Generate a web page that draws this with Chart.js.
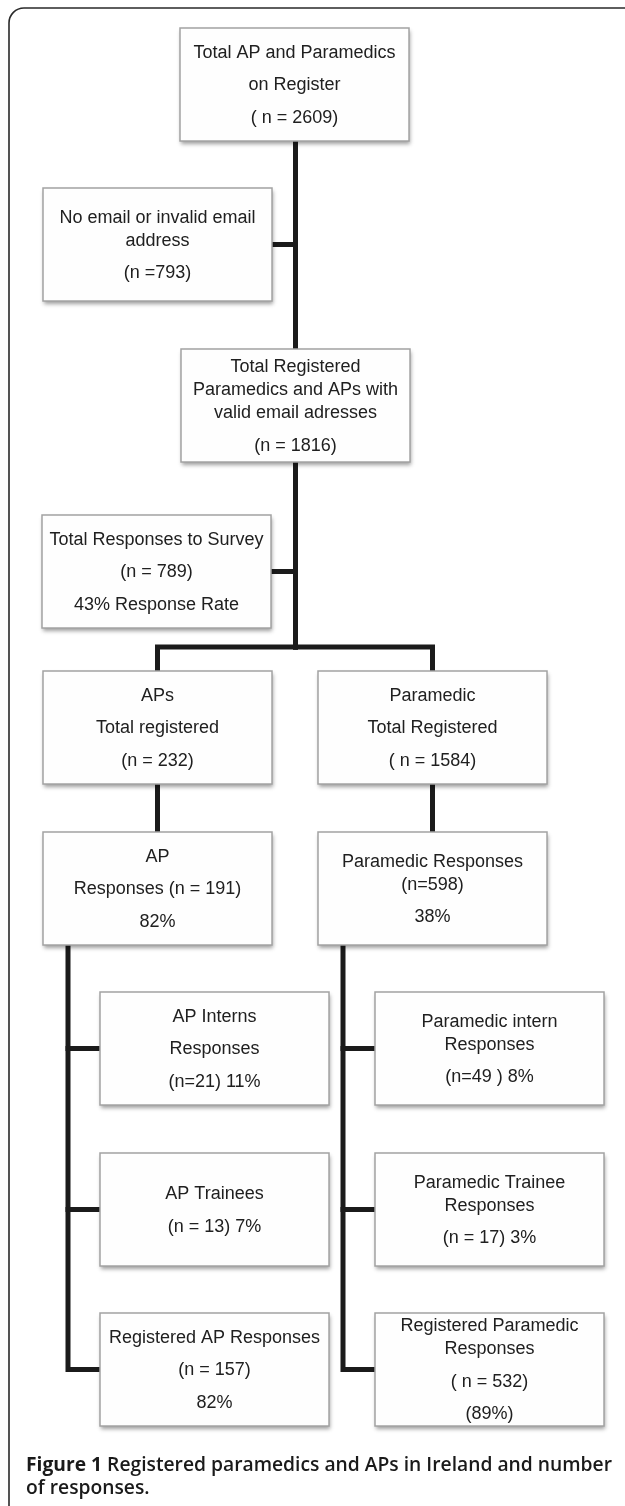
<!DOCTYPE html>
<html>
<head>
<meta charset="utf-8">
<script src="https://cdn.jsdelivr.net/npm/chart.js@4.4.1/dist/chart.umd.min.js"></script>
<style>
html, body { margin: 0; padding: 0; background: #fff; }
#wrap { width: 625px; height: 1506px; position: relative; }
</style>
</head>
<body>
<div id="wrap"><canvas id="chart"></canvas></div>
<script>
// text of each box: one entry per paragraph, "\n" = wrapped line in the same paragraph
var boxText = [
	['Total AP and Paramedics', 'on Register', '( n = 2609)'],
	['No email or invalid email\naddress', '(n =793)'],
	['Total Registered\nParamedics and APs with\nvalid email adresses', '(n = 1816)'],
	['Total Responses to Survey', '(n = 789)', '43% Response Rate'],
	['APs', 'Total registered', '(n = 232)'],
	['Paramedic', 'Total Registered', '( n = 1584)'],
	['AP', 'Responses (n = 191)', '82%'],
	['Paramedic Responses\n(n=598)', '38%'],
	['AP Interns', 'Responses', '(n=21) 11%'],
	['Paramedic intern\nResponses', '(n=49 ) 8%'],
	['AP Trainees', '(n = 13) 7%'],
	['Paramedic Trainee\nResponses', '(n = 17) 3%'],
	['Registered AP Responses', '(n = 157)', '82%'],
	['Registered Paramedic\nResponses', '( n = 532)', '(89%)']
];
// which box feeds which (parent index -> children)
var sideLinks = [[0, 1], [2, 3]];          // side boxes hanging off the main trunk
var trunkLinks = [[0, 2], [2, 4], [2, 5], [4, 6], [5, 7]];
var branchLinks = [[6, [8, 10, 12]], [7, [9, 11, 13]]];

var captionBold = 'Figure 1';
var captionRest = ' Registered paramedics and APs in Ireland and number';
var captionLine2 = 'of responses.';

// layout (page units, y goes down)
var boxLeft = [180, 43, 181, 42, 43, 318, 43, 318, 100, 375, 100, 375, 100, 375];
var boxTop = [28, 188, 349, 515, 671, 671, 832, 832, 992, 992, 1153, 1153, 1313, 1313];
var boxW = 229, boxH = 113;
var splitY = 647;      // horizontal bar under the survey box
var branchInset = 25;  // trunk x offset from the parent box's left edge

function box(i) {
	return { l: boxLeft[i], t: boxTop[i], r: boxLeft[i] + boxW, b: boxTop[i] + boxH,
		cx: boxLeft[i] + boxW / 2, cy: boxTop[i] + boxH / 2 };
}

// connector polylines, built from the boxes
var segs = [];
sideLinks.forEach(function (k) {
	var p = box(k[0]), c = box(k[1]);
	segs.push([{ x: c.r, y: c.cy }, { x: p.cx, y: c.cy }]);
});
trunkLinks.forEach(function (k) {
	var p = box(k[0]), c = box(k[1]);
	if (k[0] === 2) {
		segs.push([{ x: p.cx, y: p.b }, { x: p.cx, y: splitY }]);
		segs.push([{ x: p.cx, y: splitY }, { x: c.cx, y: splitY }, { x: c.cx, y: c.t }]);
	} else {
		segs.push([{ x: c.cx, y: p.b }, { x: c.cx, y: c.t }]);
	}
});
branchLinks.forEach(function (k) {
	var p = box(k[0]);
	var tx = p.l + branchInset;
	var kids = k[1];
	var last = box(kids[kids.length - 1]);
	segs.push([{ x: tx, y: p.b }, { x: tx, y: last.cy }, { x: last.l, y: last.cy }]);
	kids.slice(0, -1).forEach(function (ci) {
		var c = box(ci);
		segs.push([{ x: tx, y: c.cy }, { x: c.l, y: c.cy }]);
	});
});

var datasets = segs.map(function (s) {
	return {
		data: s,
		showLine: true,
		borderColor: '#1b1b1b',
		borderWidth: 5,
		pointRadius: 0,
		borderJoinStyle: 'miter',
		borderCapStyle: 'square'
	};
});

var flowPlugin = {
	id: 'flow',
	beforeDatasetsDraw: function (chart) {
		var ctx = chart.ctx, xs = chart.scales.x, ys = chart.scales.y;
		// outer frame with rounded top-left corner
		var x0 = xs.getPixelForValue(9), y0 = ys.getPixelForValue(8), r = 15;
		ctx.save();
		ctx.strokeStyle = '#2a2a2a';
		ctx.lineWidth = 1.6;
		ctx.beginPath();
		ctx.moveTo(x0, ys.getPixelForValue(1530));
		ctx.lineTo(x0, y0 + r);
		ctx.arcTo(x0, y0, x0 + r, y0, r);
		ctx.lineTo(xs.getPixelForValue(650), y0);
		ctx.stroke();
		ctx.restore();
	},
	afterDatasetsDraw: function (chart) {
		var ctx = chart.ctx, xs = chart.scales.x, ys = chart.scales.y;
		boxText.forEach(function (paras, i) {
			var b = box(i);
			var L = xs.getPixelForValue(b.l), T = ys.getPixelForValue(b.t);
			var R = xs.getPixelForValue(b.r), B = ys.getPixelForValue(b.b);
			ctx.save();
			ctx.shadowColor = 'rgba(0,0,0,0.38)';
			ctx.shadowBlur = 4;
			ctx.shadowOffsetX = 1;
			ctx.shadowOffsetY = 3;
			ctx.fillStyle = '#fefefe';
			ctx.fillRect(L, T, R - L, B - T);
			ctx.restore();
			ctx.save();
			ctx.strokeStyle = '#a3a3a3';
			ctx.lineWidth = 1.5;
			ctx.strokeRect(L, T, R - L, B - T);
			// text lines
			var lines = [];
			paras.forEach(function (p, pi) {
				p.split('\n').forEach(function (s, li) {
					lines.push({ s: s, gap: (pi === 0 && li === 0) ? 0 : (li === 0 ? 32.5 : 23) });
				});
			});
			var total = 0;
			lines.forEach(function (l) { total += l.gap; });
			var y = (T + B) / 2 - total / 2;
			ctx.fillStyle = '#202020';
			ctx.font = '18px "Liberation Sans", Arial, sans-serif';
			ctx.textAlign = 'center';
			ctx.textBaseline = 'middle';
			lines.forEach(function (l) {
				y += l.gap;
				ctx.fillText(l.s, (L + R) / 2, y + 1);
			});
			ctx.restore();
		});
	},
	afterDraw: function (chart) {
		var ctx = chart.ctx, xs = chart.scales.x, ys = chart.scales.y;
		var x = xs.getPixelForValue(26);
		var fitW = xs.getPixelForValue(612) - x;
		ctx.save();
		ctx.fillStyle = '#1a1a1a';
		ctx.textBaseline = 'alphabetic';
		ctx.textAlign = 'left';
		var fb = '700 20px "Open Sans", sans-serif', fr = '600 20px "Open Sans", sans-serif';
		ctx.font = fb;
		var w1 = ctx.measureText(captionBold).width;
		ctx.font = fr;
		var w2 = ctx.measureText(captionRest).width;
		var sx = fitW / (w1 + w2);
		ctx.translate(x, ys.getPixelForValue(1471));
		ctx.scale(sx, 1);
		ctx.font = fb;
		ctx.fillText(captionBold, 0, 0);
		ctx.font = fr;
		ctx.fillText(captionRest, w1, 0);
		ctx.fillText(captionLine2, 0, ys.getPixelForValue(1494) - ys.getPixelForValue(1471));
		ctx.restore();
	}
};

var ctx = document.getElementById('chart').getContext('2d');
var chart = new Chart(ctx, {
	type: 'scatter',
	data: { datasets: datasets },
	options: {
		responsive: true,
		maintainAspectRatio: false,
		animation: false,
		layout: { padding: 0 },
		plugins: { legend: { display: false }, tooltip: { enabled: false } },
		scales: {
			x: { type: 'linear', min: 0, max: 625, display: false },
			y: { type: 'linear', min: 0, max: 1506, reverse: true, display: false }
		}
	},
	plugins: [flowPlugin]
});
</script>
</body>
</html>
